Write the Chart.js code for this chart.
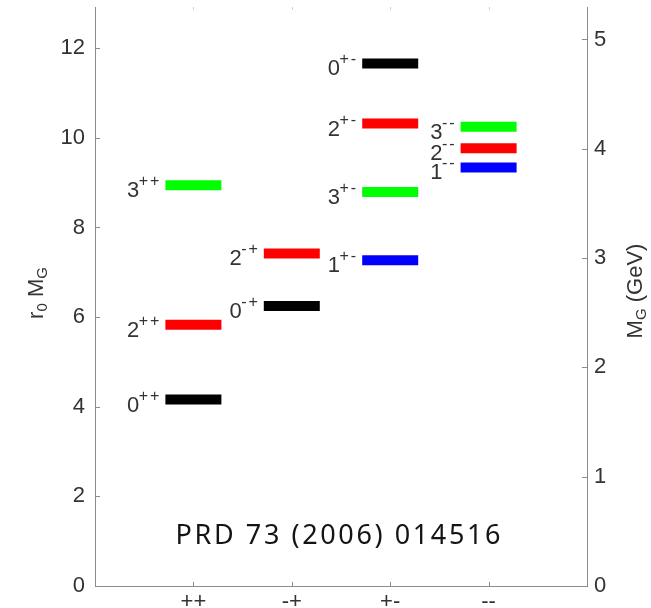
<!DOCTYPE html>
<html>
<head>
<meta charset="utf-8">
<script src="https://cdn.jsdelivr.net/npm/chart.js@4/dist/chart.umd.min.js"></script>
<style>
  html, body { margin: 0; padding: 0; background: #fff; }
  #wrap { width: 651px; height: 608px; }
</style>
</head>
<body>
<div id="wrap"><canvas id="c" width="651" height="608"></canvas></div>
<script>
// Glueball spectrum in quenched lattice QCD: r0*M_G for each J^PC channel
const CATEGORIES = ['++', '-+', '+-', '--'];          // PC quantum numbers
const SPIN_0 = [4.16, 6.25, 11.66, null];
const SPIN_1 = [null, null, 7.27, 9.34];
const SPIN_2 = [5.83, 7.42, 10.32, 9.77];
const SPIN_3 = [8.94, null, 8.79, 10.25];
const LEFT_TICKS = [0, 2, 4, 6, 8, 10, 12];           // r0 M_G
const RIGHT_TICKS = [0, 1, 2, 3, 4, 5];               // M_G in GeV
const R0_INV_GEV = 0.41;                              // 1/r0 = 410 MeV
const R0M_MAX = 12.92;
const REFERENCE = 'PRD 73 (2006) 014516';

const FONT = '"Liberation Sans", Arial, sans-serif';
const TEXT = '#333333';
const AXIS = '#8c8c8c';
const BAR_HALF_PX = 28;
const BAR_THICK_PX = 10;

const series = [
  { spin: 0, values: SPIN_0, color: '#000000' },
  { spin: 1, values: SPIN_1, color: '#0000ff' },
  { spin: 2, values: SPIN_2, color: '#ff0000' },
  { spin: 3, values: SPIN_3, color: '#00ff00' }
];

const datasets = series.map(s => ({
  label: 'J=' + s.spin,
  spin: s.spin,
  data: s.values
    .map((v, i) => (v == null ? null : { x: i + 1, y: v, pc: CATEGORIES[i] }))
    .filter(p => p !== null),
  pointStyle: 'line',
  pointRadius: BAR_HALF_PX,
  pointHoverRadius: BAR_HALF_PX,
  pointBorderWidth: BAR_THICK_PX,
  pointHoverBorderWidth: BAR_THICK_PX,
  pointBorderColor: s.color,
  pointBackgroundColor: s.color,
  showLine: false
}));

// Inward tick marks on all axes
const inwardTicks = {
  id: 'inwardTicks',
  afterDraw(chart) {
    const { ctx, chartArea: a, scales } = chart;
    ctx.save();
    ctx.strokeStyle = AXIS;
    ctx.lineWidth = 1;
    ctx.beginPath();
    LEFT_TICKS.forEach(v => {
      const y = Math.round(scales.y.getPixelForValue(v)) + 0.5;
      ctx.moveTo(a.left, y); ctx.lineTo(a.left + 5, y);
    });
    RIGHT_TICKS.forEach(v => {
      const y = Math.round(scales.y2.getPixelForValue(v)) + 0.5;
      ctx.moveTo(a.right, y); ctx.lineTo(a.right - 5, y);
    });
    CATEGORIES.forEach((c, i) => {
      const x = Math.round(scales.x.getPixelForValue(i + 1)) + 0.5;
      ctx.moveTo(x, a.bottom); ctx.lineTo(x, a.bottom - 4);
    });
    ctx.stroke();
    ctx.strokeStyle = '#d0d0d0';
    ctx.beginPath();
    CATEGORIES.forEach((c, i) => {
      const x = Math.round(scales.x.getPixelForValue(i + 1)) + 0.5;
      ctx.moveTo(x, a.top); ctx.lineTo(x, a.top + 3);
    });
    ctx.stroke();
    ctx.restore();
  }
};

// J^PC labels to the left of each level
const levelLabels = {
  id: 'levelLabels',
  afterDatasetsDraw(chart) {
    const ctx = chart.ctx;
    ctx.save();
    ctx.fillStyle = TEXT;
    chart.data.datasets.forEach((ds, di) => {
      const meta = chart.getDatasetMeta(di);
      meta.data.forEach((pt, j) => {
        const pc = ds.data[j].pc;
        const barLeft = pt.x - BAR_HALF_PX;
        ctx.font = '16px ' + FONT;
        const chars = [...pc];
        const spacing = 2;
        const widths = chars.map(ch => ctx.measureText(ch).width);
        const supW = widths.reduce((a, b) => a + b, 0) + spacing * (chars.length - 1);
        const sx = barLeft - 6 - supW;
        ctx.textAlign = 'left';
        ctx.textBaseline = 'alphabetic';
        let cx = sx;
        chars.forEach((ch, k) => {
          ctx.fillText(ch, cx, pt.y + 1);
          cx += widths[k] + spacing;
        });
        ctx.font = '22px ' + FONT;
        ctx.textAlign = 'right';
        ctx.fillText(String(ds.spin), sx + 0.5, pt.y + 12);
      });
    });
    ctx.restore();
  }
};

// Rotated axis titles with subscripts
function drawRotated(ctx, parts, cy, baseX) {
  ctx.save();
  const widths = parts.map(p => { ctx.font = p.size + 'px ' + FONT; return ctx.measureText(p.t).width; });
  const total = widths.reduce((a, b) => a + b, 0);
  ctx.translate(baseX, cy);
  ctx.rotate(-Math.PI / 2);
  let x = -total / 2;
  ctx.textAlign = 'left';
  ctx.textBaseline = 'alphabetic';
  parts.forEach((p, i) => {
    ctx.font = p.size + 'px ' + FONT;
    ctx.fillText(p.t, x, p.sub ? 4 : 0);
    x += widths[i];
  });
  ctx.restore();
}

const annotations = {
  id: 'annotations',
  afterDraw(chart) {
    const ctx = chart.ctx;
    ctx.save();
    ctx.fillStyle = TEXT;
    drawRotated(ctx, [
      { t: 'r', size: 22 }, { t: '0', size: 15, sub: true }, { t: ' ', size: 22 },
      { t: 'M', size: 22 }, { t: 'G', size: 15, sub: true }
    ], 293, 43);
    drawRotated(ctx, [
      { t: 'M', size: 22 }, { t: 'G', size: 15, sub: true }, { t: ' (GeV)', size: 22 }
    ], 291, 642);

    // reference note
    ctx.font = '27px "Noto Sans", "Open Sans", sans-serif';
    ctx.fillStyle = '#141414';
    ctx.textAlign = 'left';
    ctx.textBaseline = 'alphabetic';
    const chars = [...REFERENCE];
    const sp = 2.6;
    const ws = chars.map(ch => ctx.measureText(ch).width);
    const total = ws.reduce((a, b) => a + b, 0) + sp * (chars.length - 1);
    let x = 338 - total / 2;
    chars.forEach((ch, i) => { ctx.fillText(ch, x, 544); x += ws[i] + sp; });
    ctx.restore();
  }
};

const tickFont = { family: FONT, size: 22 };
const noPad = s => { s.paddingTop = 0; s.paddingBottom = 0; s.paddingLeft = 0; s.paddingRight = 0; };

new Chart(document.getElementById('c'), {
  type: 'scatter',
  data: { datasets },
  plugins: [inwardTicks, levelLabels, annotations],
  options: {
    responsive: false,
    devicePixelRatio: 1,
    animation: false,
    events: [],
    layout: { autoPadding: false, padding: { top: 7, left: 0, right: 0, bottom: 0 } },
    plugins: { legend: { display: false }, tooltip: { enabled: false } },
    scales: {
      x: {
        type: 'linear',
        min: 0,
        max: CATEGORIES.length + 1,
        afterBuildTicks: s => { s.ticks = CATEGORIES.map((c, i) => ({ value: i + 1 })); },
        afterFit: s => { s.height = 22; noPad(s); },
        ticks: {
          callback: v => CATEGORIES[v - 1] || '',
          font: tickFont, color: TEXT, padding: 3,
          maxRotation: 0, autoSkip: false
        },
        grid: { display: false, drawTicks: false },
        border: { display: true, color: AXIS, width: 1 }
      },
      y: {
        type: 'linear',
        position: 'left',
        min: 0,
        max: R0M_MAX,
        afterBuildTicks: s => { s.ticks = LEFT_TICKS.map(v => ({ value: v })); },
        afterFit: s => { s.width = 95; noPad(s); },
        ticks: { font: tickFont, color: TEXT, padding: 10 },
        grid: { display: false, drawTicks: false },
        border: { display: true, color: AXIS, width: 1 }
      },
      y2: {
        type: 'linear',
        position: 'right',
        min: 0,
        max: R0M_MAX * R0_INV_GEV,
        afterBuildTicks: s => { s.ticks = RIGHT_TICKS.map(v => ({ value: v })); },
        afterFit: s => { s.width = 64; noPad(s); },
        ticks: { font: tickFont, color: TEXT, padding: 7 },
        grid: { display: false, drawTicks: false },
        border: { display: true, color: AXIS, width: 1 }
      }
    }
  }
});
</script>
</body>
</html>
